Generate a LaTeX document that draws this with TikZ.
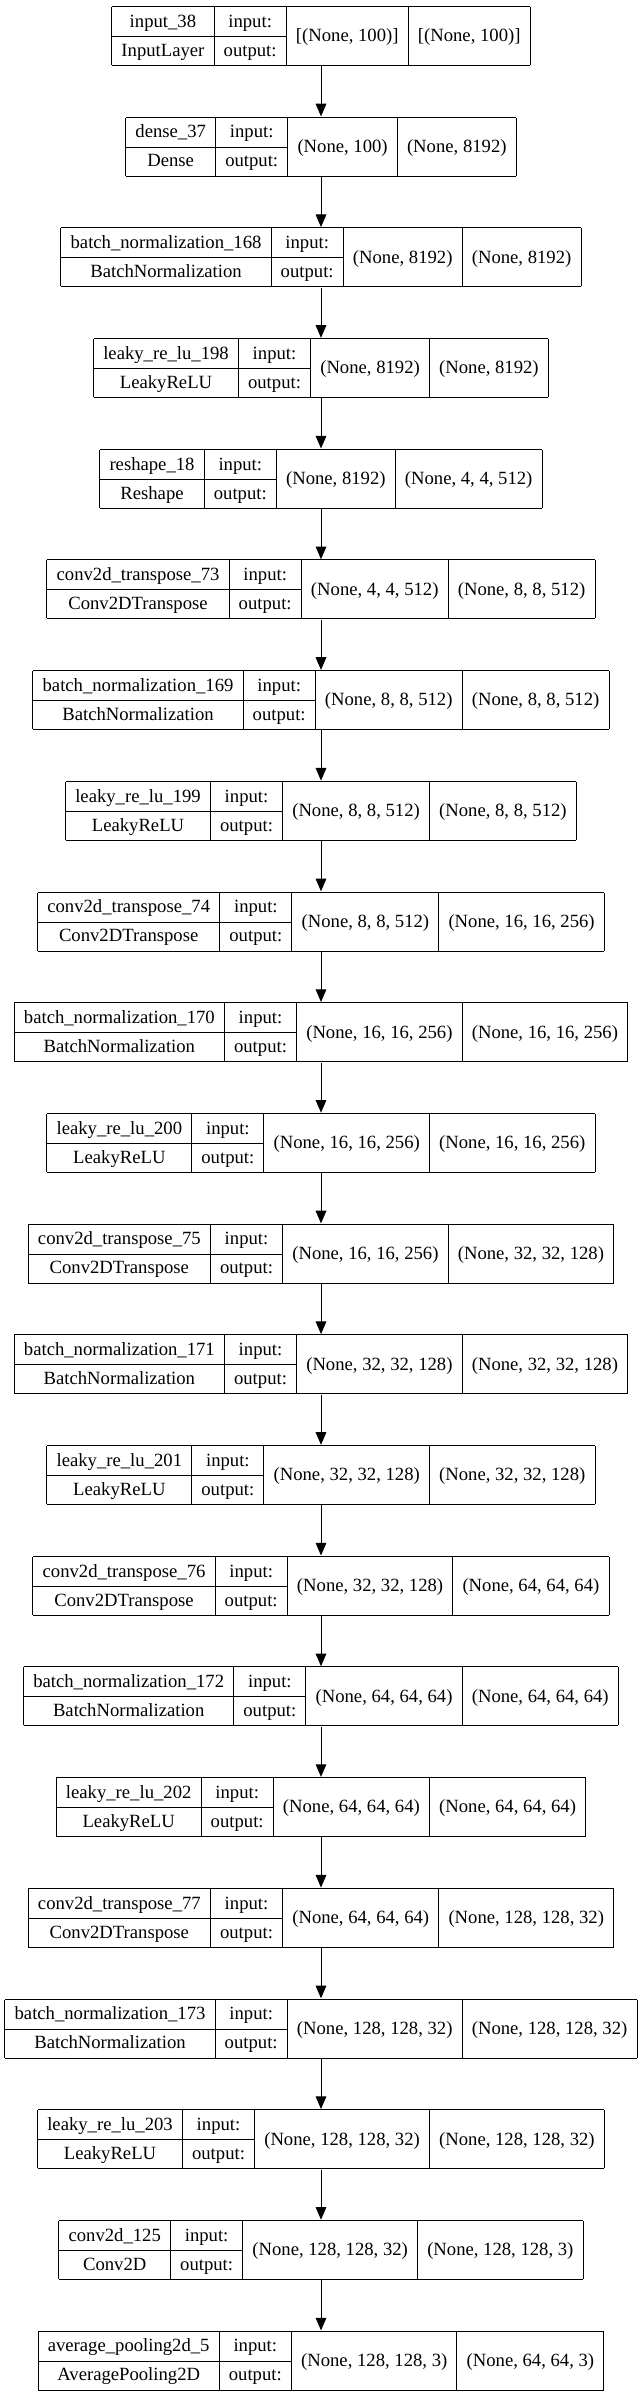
\documentclass[tikz,border=0pt]{standalone}
\usepackage{fontspec}
\usepackage{multirow}
\setmainfont{Liberation Serif}
\usetikzlibrary{arrows.meta,positioning}

\setlength{\tabcolsep}{7.25pt}
\setlength{\arrayrulewidth}{0.75pt}

% one keras layer: name, class, input shape, output shape
\newcommand\layertab[4]{%
  \begin{tabular}{|c|c|c|c|}\hline
    #1 & input:  & \multirow{2}{*}{#3} & \multirow{2}{*}{#4}\\\cline{1-2}
    #2 & output: &                     & \\\hline
  \end{tabular}}

\tikzset{
    % Layer box style
    layer/.style={
        inner sep=0pt,
        anchor=north,
        font=\fontsize{14}{21.75}\selectfont
    },
    % Arrow style
    flow/.style={
        -{Triangle[length=9.5pt, width=8pt]},
        line width=0.75pt,
        color=black
    }
}

\begin{document}
\begin{tikzpicture}[x=0.75pt, y=-0.75pt]
        \useasboundingbox (0,0) rectangle (640,2397);

        % Input and dense block
        \node[layer] (input) at (321, 5.7) {\layertab{input\_38}{InputLayer}{[(None, 100)]}{[(None, 100)]}};
        \node[layer] (dense) at (321, 116.4) {\layertab{dense\_37}{Dense}{(None, 100)}{(None, 8192)}};
        \node[layer] (bn168) at (321, 227.1) {\layertab{batch\_normalization\_168}{BatchNormalization}{(None, 8192)}{(None, 8192)}};
        \node[layer] (lrelu198) at (321, 337.8) {\layertab{leaky\_re\_lu\_198}{LeakyReLU}{(None, 8192)}{(None, 8192)}};
        \node[layer] (reshape) at (321, 448.5) {\layertab{reshape\_18}{Reshape}{(None, 8192)}{(None, 4, 4, 512)}};

        % Upsampling block 1
        \node[layer] (deconv73) at (321, 559.2) {\layertab{conv2d\_transpose\_73}{Conv2DTranspose}{(None, 4, 4, 512)}{(None, 8, 8, 512)}};
        \node[layer] (bn169) at (321, 669.9) {\layertab{batch\_normalization\_169}{BatchNormalization}{(None, 8, 8, 512)}{(None, 8, 8, 512)}};
        \node[layer] (lrelu199) at (321, 780.6) {\layertab{leaky\_re\_lu\_199}{LeakyReLU}{(None, 8, 8, 512)}{(None, 8, 8, 512)}};

        % Upsampling block 2
        \node[layer] (deconv74) at (321, 891.3) {\layertab{conv2d\_transpose\_74}{Conv2DTranspose}{(None, 8, 8, 512)}{(None, 16, 16, 256)}};
        \node[layer] (bn170) at (321, 1002.0) {\layertab{batch\_normalization\_170}{BatchNormalization}{(None, 16, 16, 256)}{(None, 16, 16, 256)}};
        \node[layer] (lrelu200) at (321, 1112.7) {\layertab{leaky\_re\_lu\_200}{LeakyReLU}{(None, 16, 16, 256)}{(None, 16, 16, 256)}};

        % Upsampling block 3
        \node[layer] (deconv75) at (321, 1223.4) {\layertab{conv2d\_transpose\_75}{Conv2DTranspose}{(None, 16, 16, 256)}{(None, 32, 32, 128)}};
        \node[layer] (bn171) at (321, 1334.1) {\layertab{batch\_normalization\_171}{BatchNormalization}{(None, 32, 32, 128)}{(None, 32, 32, 128)}};
        \node[layer] (lrelu201) at (321, 1444.8) {\layertab{leaky\_re\_lu\_201}{LeakyReLU}{(None, 32, 32, 128)}{(None, 32, 32, 128)}};

        % Upsampling block 4
        \node[layer] (deconv76) at (321, 1555.5) {\layertab{conv2d\_transpose\_76}{Conv2DTranspose}{(None, 32, 32, 128)}{(None, 64, 64, 64)}};
        \node[layer] (bn172) at (321, 1666.2) {\layertab{batch\_normalization\_172}{BatchNormalization}{(None, 64, 64, 64)}{(None, 64, 64, 64)}};
        \node[layer] (lrelu202) at (321, 1776.9) {\layertab{leaky\_re\_lu\_202}{LeakyReLU}{(None, 64, 64, 64)}{(None, 64, 64, 64)}};

        % Upsampling block 5
        \node[layer] (deconv77) at (321, 1887.6) {\layertab{conv2d\_transpose\_77}{Conv2DTranspose}{(None, 64, 64, 64)}{(None, 128, 128, 32)}};
        \node[layer] (bn173) at (321, 1998.3) {\layertab{batch\_normalization\_173}{BatchNormalization}{(None, 128, 128, 32)}{(None, 128, 128, 32)}};
        \node[layer] (lrelu203) at (321, 2109.0) {\layertab{leaky\_re\_lu\_203}{LeakyReLU}{(None, 128, 128, 32)}{(None, 128, 128, 32)}};

        % Output head
        \node[layer] (conv125) at (321, 2219.7) {\layertab{conv2d\_125}{Conv2D}{(None, 128, 128, 32)}{(None, 128, 128, 3)}};
        \node[layer] (avgpool) at (321, 2330.4) {\layertab{average\_pooling2d\_5}{AveragePooling2D}{(None, 128, 128, 3)}{(None, 64, 64, 3)}};

        % Connections
        \draw[flow] (input.south) -- (dense.north);
        \draw[flow] (dense.south) -- (bn168.north);
        \draw[flow] (bn168.south) -- (lrelu198.north);
        \draw[flow] (lrelu198.south) -- (reshape.north);
        \draw[flow] (reshape.south) -- (deconv73.north);
        \draw[flow] (deconv73.south) -- (bn169.north);
        \draw[flow] (bn169.south) -- (lrelu199.north);
        \draw[flow] (lrelu199.south) -- (deconv74.north);
        \draw[flow] (deconv74.south) -- (bn170.north);
        \draw[flow] (bn170.south) -- (lrelu200.north);
        \draw[flow] (lrelu200.south) -- (deconv75.north);
        \draw[flow] (deconv75.south) -- (bn171.north);
        \draw[flow] (bn171.south) -- (lrelu201.north);
        \draw[flow] (lrelu201.south) -- (deconv76.north);
        \draw[flow] (deconv76.south) -- (bn172.north);
        \draw[flow] (bn172.south) -- (lrelu202.north);
        \draw[flow] (lrelu202.south) -- (deconv77.north);
        \draw[flow] (deconv77.south) -- (bn173.north);
        \draw[flow] (bn173.south) -- (lrelu203.north);
        \draw[flow] (lrelu203.south) -- (conv125.north);
        \draw[flow] (conv125.south) -- (avgpool.north);

    \end{tikzpicture}
\end{document}
